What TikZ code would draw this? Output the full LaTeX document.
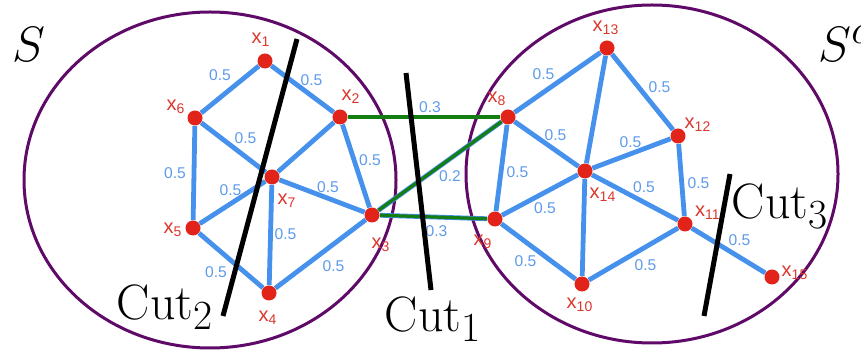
\documentclass[tikz,border=0pt]{standalone}
\usepackage{fontspec}
\newfontfamily\graphfont{Liberation Sans}
\usetikzlibrary{positioning}
\definecolor{setpurple}{RGB}{95,10,105}
\definecolor{edgeblue}{RGB}{70,145,235}
\definecolor{wtblue}{RGB}{95,155,235}
\definecolor{vertred}{RGB}{225,35,25}
\definecolor{labred}{RGB}{220,55,45}
\definecolor{crossgreen}{RGB}{20,125,20}

\begin{document}
\begin{tikzpicture}[x=0.5pt, y=-0.5pt,
    vert/.style={circle, fill=vertred, inner sep=0pt, minimum size=7.5pt},
    nlab/.style={font=\graphfont\fontsize{10}{11}\selectfont, text=labred, inner sep=0pt},
    link/.style={draw=edgeblue, line width=2.4pt},
    cross/.style={draw=crossgreen, line width=1.6pt},
    wt/.style={font=\graphfont\fontsize{7.8}{8}\selectfont, text=wtblue, inner sep=0pt},
    setline/.style={draw=setpurple, line width=1.5pt},
    cutline/.style={line width=2.5pt},
    biglab/.style={font=\fontsize{24.88}{28}\selectfont, inner sep=0pt, anchor=base}
]
    \useasboundingbox (0,0) rectangle (861,351);

    % the two sets
    \draw[setline] (210,180) ellipse [x radius=186, y radius=168];
    \draw[setline] (652,174) ellipse [x radius=186, y radius=169];
    \node[biglab, anchor=base west] (setS) at (12,62) {$S$};
    \node[biglab, anchor=base west] (setSc) at (818,62) {$S^c$};

    % vertices of S
    \node[vert, label={[nlab, shift={(-4,-21)}]center:x\textsubscript{1}}] (x1) at (265,61) {};
    \node[vert, label={[nlab, shift={(11,-20)}]center:x\textsubscript{2}}] (x2) at (340,117) {};
    \node[vert, label={[nlab, shift={(9,30)}]center:x\textsubscript{3}}] (x3) at (372,215) {};
    \node[vert, label={[nlab, shift={(-1,25)}]center:x\textsubscript{4}}] (x4) at (269,293) {};
    \node[vert, label={[nlab, shift={(-20,2)}]center:x\textsubscript{5}}] (x5) at (193,228) {};
    \node[vert, label={[nlab, shift={(-19,-11)}]center:x\textsubscript{6}}] (x6) at (195,118) {};
    \node[vert, label={[nlab, shift={(15,24)}]center:x\textsubscript{7}}] (x7) at (272,177) {};

    % vertices of S^c
    \node[vert, label={[nlab, shift={(-11,-18)}]center:x\textsubscript{8}}] (x8) at (508,117) {};
    \node[vert, label={[nlab, shift={(-12,23)}]center:x\textsubscript{9}}] (x9) at (495,219) {};
    \node[vert, label={[nlab, shift={(-2,21)}]center:x\textsubscript{10}}] (x10) at (582,284) {};
    \node[vert, label={[nlab, shift={(23,-11)}]center:x\textsubscript{11}}] (x11) at (685,224) {};
    \node[vert, label={[nlab, shift={(20,-11)}]center:x\textsubscript{12}}] (x12) at (678,136) {};
    \node[vert, label={[nlab, shift={(-1,-20)}]center:x\textsubscript{13}}] (x13) at (607,48) {};
    \node[vert, label={[nlab, shift={(18,24)}]center:x\textsubscript{14}}] (x14) at (585,171) {};
    \node[vert, label={[nlab, shift={(23,-4)}]center:x\textsubscript{15}}] (x15) at (772,277) {};

    % edges inside S
    \draw[link] (x1) -- node[wt, shift={(-10,-14)}] {0.5} (x6);
    \draw[link] (x1) -- node[wt, shift={(9,-9)}] {0.5} (x2);
    \draw[link] (x6) -- node[wt, shift={(12,-9)}] {0.5} (x7);
    \draw[link] (x6) -- node[wt, shift={(-19,0)}] {0.5} (x5);
    \draw[link] (x5) -- node[wt, shift={(-2,-12)}] {0.5} (x7);
    \draw[link] (x2) -- node[wt, shift={(14,-6)}] {0.5} (x3);
    \draw[link] (x7) -- node[wt, shift={(6,-9)}] {0.5} (x3);
    \draw[link] (x7) -- node[wt, shift={(15,-1)}] {0.5} (x4);
    \draw[link] (x5) -- node[wt, shift={(-15,12)}] {0.5} (x4);
    \draw[link] (x4) -- node[wt, shift={(13,12)}] {0.5} (x3);
    \draw[link] (x7) -- (x2);

    % edges inside S^c
    \draw[link] (x8) -- node[wt, shift={(-14,-8)}] {0.5} (x13);
    \draw[link] (x13) -- node[wt, shift={(17,-5)}] {0.5} (x12);
    \draw[link] (x8) -- node[wt, shift={(9,-9)}] {0.5} (x14);
    \draw[link] (x12) -- node[wt, shift={(-1,-11)}] {0.5} (x14);
    \draw[link] (x8) -- node[wt, shift={(16,4)}] {0.5} (x9);
    \draw[link] (x9) -- node[wt, shift={(5,13)}] {0.5} (x14);
    \draw[link] (x14) -- node[wt, shift={(9,-10)}] {0.5} (x11);
    \draw[link] (x12) -- node[wt, shift={(17,3)}] {0.5} (x11);
    \draw[link] (x9) -- node[wt, shift={(-13,10)}] {0.5} (x10);
    \draw[link] (x10) -- node[wt, shift={(12,11)}] {0.5} (x11);
    \draw[link] (x11) -- node[wt, shift={(11,-10)}] {0.5} (x15);
    \draw[link] (x13) -- (x14);
    \draw[link] (x14) -- (x10);

    % edges between S and S^c
    \draw[link] (x2) -- node[wt, shift={(6,-10)}] {0.3} (x8);
    \draw[link] (x3) -- node[wt, shift={(10,10)}] {0.2} (x8);
    \draw[link] (x3) -- node[wt, shift={(3,14)}] {0.3} (x9);
    \draw[cross] (x2) -- (x8);
    \draw[cross] (x3) -- (x8);
    \draw[cross] (x3) -- (x9);

    % cuts
    \coordinate (c1a) at (406,73);
    \coordinate (c1b) at (431,290);
    \coordinate (c2a) at (297,39);
    \coordinate (c2b) at (223,316);
    \coordinate (c3a) at (730,174);
    \coordinate (c3b) at (704,316);
    \draw[cutline] (c1a) -- (c1b);
    \draw[cutline] (c2a) -- (c2b);
    \draw[cutline] (c3a) -- (c3b);
    \node[biglab] (cut1) at (433,332) {$\mathrm{Cut}_1$};
    \node[biglab] (cut2) at (165,320) {$\mathrm{Cut}_2$};
    \node[biglab] (cut3) at (780,219) {$\mathrm{Cut}_3$};
\end{tikzpicture}
\end{document}
